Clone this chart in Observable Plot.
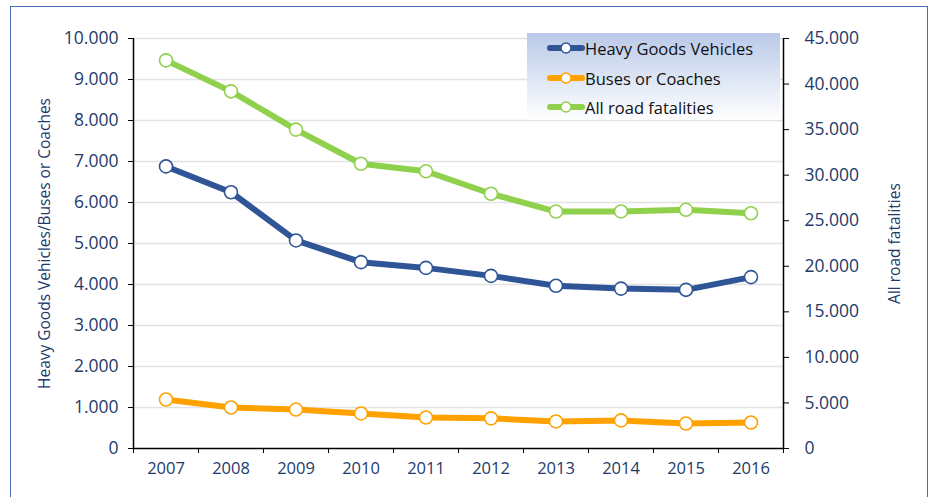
<!DOCTYPE html>
<html><head><meta charset="utf-8">
<script src="https://cdn.jsdelivr.net/npm/d3@7"></script>
<script src="https://cdn.jsdelivr.net/npm/@observablehq/plot@0.6"></script>
<style>
body{margin:0;background:#fff;}
#wrap{position:relative;width:938px;height:497px;overflow:hidden;font-family:"Open Sans",sans-serif;color:#243a6b;}
#frame{position:absolute;left:10px;top:6px;width:918px;height:600px;border:1.5px solid #4a6cb0;box-sizing:border-box;}
#chart{position:absolute;left:0;top:0;}
#legend{position:absolute;left:527px;top:33px;width:253px;height:87px;background:linear-gradient(#b9c9e8,#ffffff);}
.item{position:absolute;left:20px;height:20px;display:flex;align-items:center;font-size:16.5px;color:#111;white-space:nowrap;}
.item svg{margin-right:0px;}
</style></head>
<body><div id="wrap"><div id="frame"></div><div id="chart"></div><div id="legend"></div></div>
<script>
const years = [2007, 2008, 2009, 2010, 2011, 2012, 2013, 2014, 2015, 2016];
const hgv = [6880, 6250, 5075, 4545, 4405, 4210, 3970, 3900, 3870, 4180];
const buses = [1195, 1000, 950, 855, 755, 735, 660, 685, 610, 635];
const allRoad = [42600, 39200, 35000, 31250, 30430, 27960, 26010, 26020, 26200, 25820];
const leftTicks = [0, 1000, 2000, 3000, 4000, 5000, 6000, 7000, 8000, 9000, 10000];
const rightTicks = [0, 5000, 10000, 15000, 20000, 25000, 30000, 35000, 40000, 45000];
const seriesNames = ["Heavy Goods Vehicles", "Buses or Coaches", "All road fatalities"];
const seriesColors = ["#2f5597", "#ffa200", "#8fd04c"];
const leftLabel = "Heavy Goods Vehicles/Buses or Coaches";
const rightLabel = "All road fatalities";

const ratio = rightTicks[rightTicks.length - 1] / leftTicks[leftTicks.length - 1];
const fmt = d3.formatLocale({decimal: ",", thousands: ".", grouping: [3], currency: ["", ""]}).format(",");
const textColor = "#243a6b";

const hgvData = years.map((y, i) => ({year: y, v: hgv[i]}));
const busData = years.map((y, i) => ({year: y, v: buses[i]}));
const roadData = years.map((y, i) => ({year: y, v: allRoad[i] / ratio}));
const bounds = [years[0] - 0.5, ...years.map(y => y + 0.5)];

const series = [
  {data: roadData, color: seriesColors[2]},
  {data: hgvData, color: seriesColors[0]},
  {data: busData, color: seriesColors[1]}
];

const chart = Plot.plot({
  width: 938, height: 497,
  marginLeft: 133, marginRight: 155, marginTop: 38, marginBottom: 49,
  x: {domain: [bounds[0], bounds[bounds.length - 1]]},
  y: {domain: [0, leftTicks[leftTicks.length - 1]]},
  style: {fontFamily: "Open Sans", fontSize: "16px", background: "transparent", overflow: "visible"},
  marks: [
    Plot.ruleY(leftTicks.slice(1), {stroke: "#e2e2e2", strokeWidth: 1.5}),
    Plot.axisY({ticks: leftTicks, tickFormat: fmt, tickSize: 5, tickPadding: 10, stroke: "#000", strokeOpacity: 1, fill: textColor, label: null, fontSize: 17.5}),
    Plot.axisY({anchor: "right", ticks: rightTicks.map(v => v / ratio), tickFormat: d => fmt(Math.round(d * ratio)), tickSize: 5, tickPadding: 16, stroke: "#000", strokeOpacity: 1, fill: textColor, label: null, fontSize: 17.5}),
    Plot.axisX({ticks: bounds, tickFormat: () => "", tickSize: 5, stroke: "#000", strokeOpacity: 1, label: null}),
    Plot.axisX({ticks: years, tickFormat: d => String(d), tickSize: 0, tickPadding: 14, fill: textColor, label: null, fontSize: 16.5}),
    Plot.ruleX([bounds[0], bounds[bounds.length - 1]], {stroke: "#000", strokeWidth: 1.5}),
    Plot.ruleY([0], {stroke: "#000", strokeWidth: 1.5}),
    Plot.text([leftLabel], {frameAnchor: "left", textAnchor: "middle", rotate: -90, dx: -88, fill: textColor, fontSize: 15.5}),
    Plot.text([rightLabel], {frameAnchor: "right", textAnchor: "middle", rotate: -90, dx: 112, fill: textColor, fontSize: 15.5}),
    ...series.flatMap(s => [
      Plot.line(s.data, {x: "year", y: "v", stroke: s.color, strokeWidth: 6, strokeLinejoin: "round"}),
      Plot.dot(s.data, {x: "year", y: "v", r: 6.5, fill: "#fff", stroke: s.color, strokeWidth: 1.6})
    ])
  ]
});
document.getElementById("chart").appendChild(chart);

const legend = document.getElementById("legend");
const rowTops = [5, 35, 64];
seriesNames.forEach((name, i) => {
  const div = document.createElement("div");
  div.className = "item";
  div.style.top = rowTops[i] + "px";
  div.innerHTML = `<svg width="38" height="14"><line x1="3" x2="35" y1="7" y2="7" stroke="${seriesColors[i]}" stroke-width="6" stroke-linecap="round"/><circle cx="19" cy="7" r="5" fill="#fff" stroke="${seriesColors[i]}" stroke-width="1.5"/></svg><span>${name}</span>`;
  legend.appendChild(div);
});
</script>
</body></html>
